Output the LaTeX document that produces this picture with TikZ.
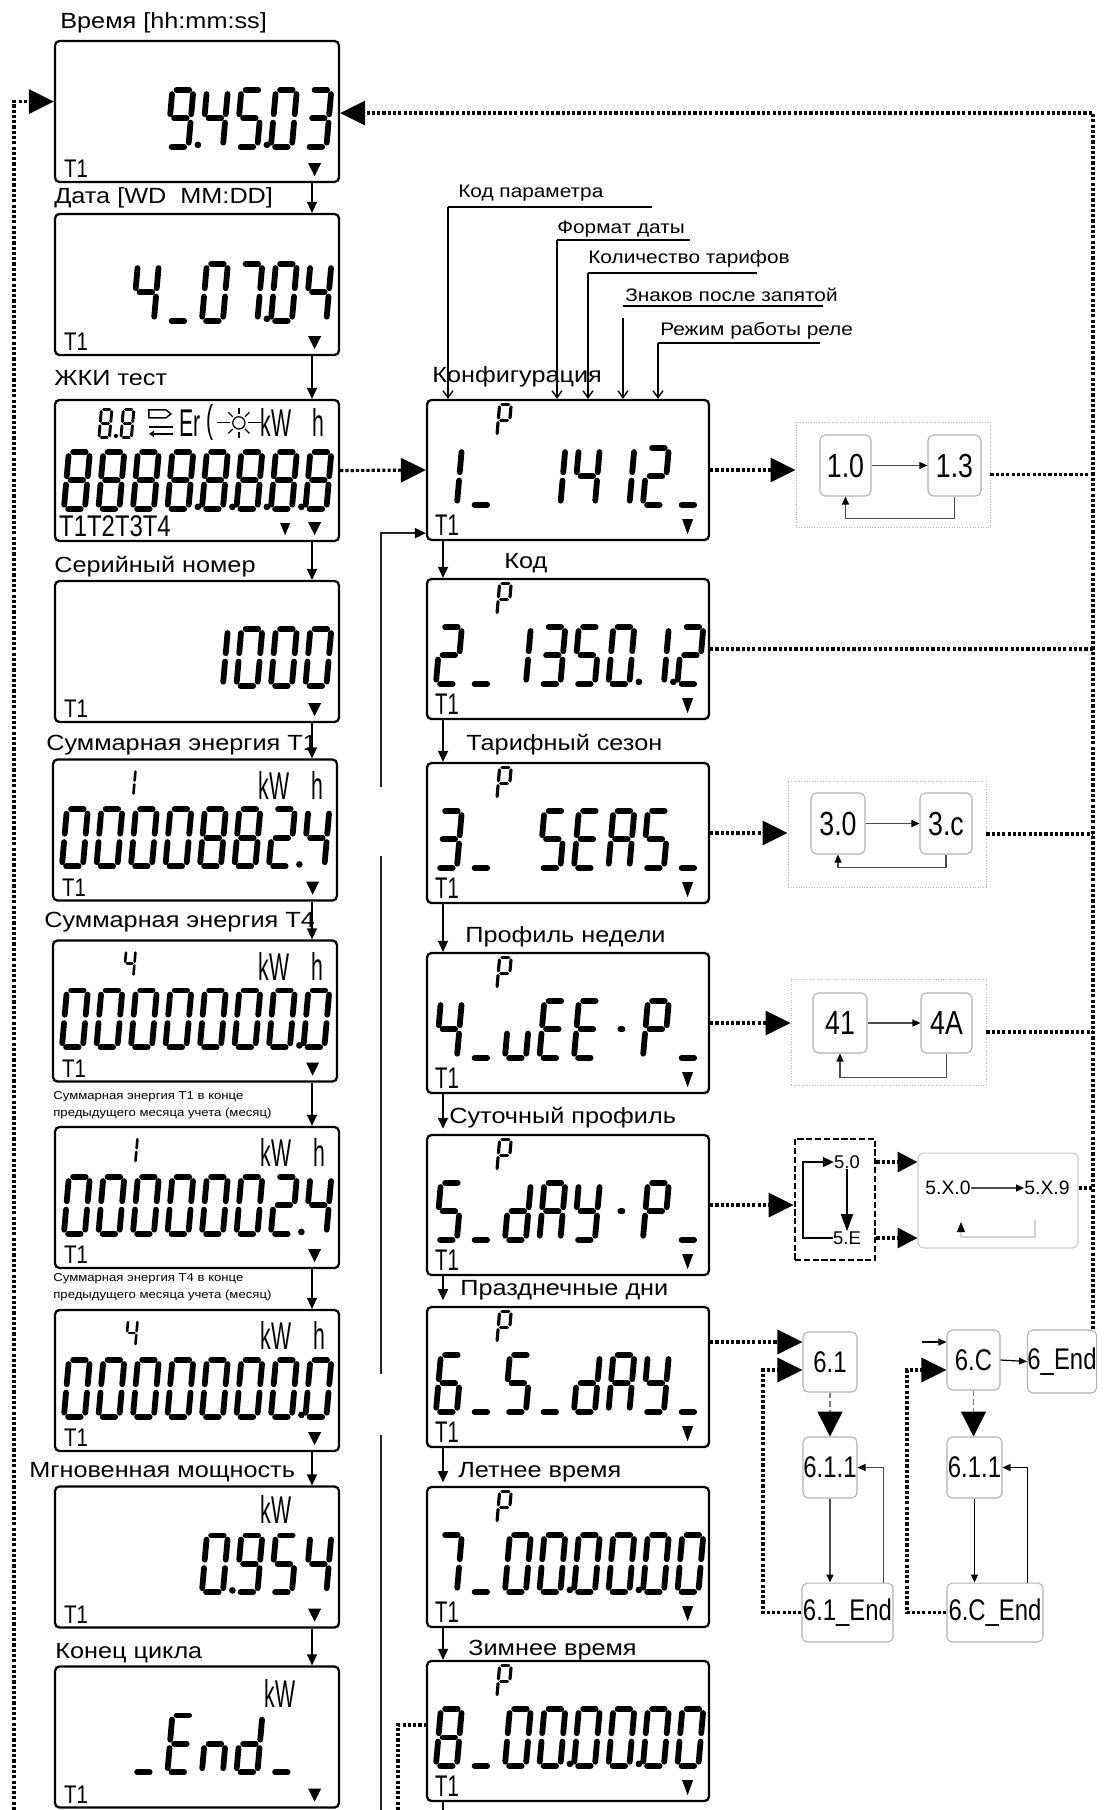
\documentclass[tikz,border=0pt]{standalone}
\usepackage{fontspec}
\setmainfont{Liberation Sans}
\newfontfamily\lblfont[FakeStretch=1.15]{Liberation Sans}
\newfontfamily\nrwfont[FakeStretch=0.55]{Liberation Sans}
\newfontfamily\tfont[FakeStretch=0.68]{Liberation Sans}
\newfontfamily\midfont[FakeStretch=0.8]{Liberation Sans}
\usetikzlibrary{arrows.meta,calc,positioning}

% семисегментные знаки: концы сегментов
\expandafter\def\csname lcdpta\endcsname{0/2/1/2}
\expandafter\def\csname lcdptb\endcsname{1/2/1/1}
\expandafter\def\csname lcdptc\endcsname{1/1/1/0}
\expandafter\def\csname lcdptd\endcsname{0/0/1/0}
\expandafter\def\csname lcdpte\endcsname{0/1/0/0}
\expandafter\def\csname lcdptf\endcsname{0/2/0/1}
\expandafter\def\csname lcdptg\endcsname{0/1/1/1}
\expandafter\def\csname lcdpth\endcsname{0.25/1/0.75/1}
% знаки: какие сегменты горят
\newcommand\defchar[2]{\expandafter\def\csname lcdseg#1\endcsname{#2}}
\defchar{0}{a,b,c,d,e,f}
\defchar{1}{b,c}
\defchar{2}{a,b,g,e,d}
\defchar{3}{a,b,g,c,d}
\defchar{4}{f,g,b,c}
\defchar{5}{a,f,g,c,d}
\defchar{6}{a,f,g,e,c,d}
\defchar{7}{a,b,c}
\defchar{8}{a,b,c,d,e,f,g}
\defchar{9}{a,b,c,d,f,g}
\defchar{E}{a,f,g,e,d}
\defchar{S}{a,f,g,c,d}
\defchar{A}{a,b,c,e,f,g}
\defchar{Y}{f,g,b,c,d}
\defchar{P}{a,b,f,g,e}
\defchar{d}{b,c,d,e,g}
\defchar{n}{e,g,c}
\defchar{u}{e,d,c}
\defchar{_}{d}
\defchar{-}{h}

\def\drawseg#1/#2/#3/#4\relax{\draw[line width=\lcdlw pt, line cap=round,
  shorten <=\lcdsh pt, shorten >=\lcdsh pt] (#1,#2) -- (#3,#4);}

\newcommand\lcdchar[3][1]{%
  \edef\lcdtmp{#2}\def\lcdblank{x}%
  \ifx\lcdtmp\lcdblank\else
    \pgfmathsetmacro\lcdlw{#1*3.3}%
    \pgfmathsetmacro\lcdsh{#1*2.4}%
    \edef\lcdsegs{\csname lcdseg#2\endcsname}%
    \begin{scope}[shift={#3}, x={(#1*0.42cm,0)}, y={(#1*0.05cm,#1*0.57cm)}]
      \foreach \s in \lcdsegs {\edef\lcdpts{\csname lcdpt\s\endcsname}\expandafter\drawseg\lcdpts\relax}
    \end{scope}
  \fi}
\newcommand\lcdrow[3][1]{\begin{scope}[shift={#2}]
  \foreach \c [count=\i from 0] in {#3} {\lcdchar[#1]{\c}{(\i*34.5,0)}}\end{scope}}
\newcommand\lcddots[2]{\begin{scope}[shift={#1}]
  \foreach \d in {#2} {\fill (\d*34.5-4,-2) circle (1.9pt);}\end{scope}}

\begin{document}
\begin{tikzpicture}[x=0.02cm, y=-0.02cm,
    lcdbox/.style={draw, line width=1.3pt, rounded corners=2.5pt, inner sep=0,
      minimum width=5.68cm, minimum height=2.82cm},
    cfgbox/.style={lcdbox, minimum width=5.64cm, minimum height=2.8cm},
    lbl/.style={anchor=west, inner sep=0, font=\lblfont\fontsize{12.5}{14}\selectfont},
    ann/.style={anchor=west, inner sep=0, font=\lblfont\fontsize{10.3}{12}\selectfont},
    tinylbl/.style={anchor=north west, inner sep=0, align=left,
      font=\lblfont\fontsize{6.5}{9.6}\selectfont},
    tlbl/.style={anchor=west, inner sep=0, font=\midfont\fontsize{14.5}{15}\selectfont},
    ctlbl/.style={anchor=west, inner sep=0, font=\tfont\fontsize{17}{18}\selectfont},
    unitlbl/.style={inner sep=0, font=\nrwfont\fontsize{22}{22}\selectfont},
    link/.style={line width=0.9pt, -{Triangle[length=0.22cm,width=0.2cm]}},
    retline/.style={line width=0.9pt, gray!30!black},
    annline/.style={line width=0.8pt},
    annarr/.style={line width=0.8pt, -{Straight Barb[length=0.14cm,width=0.2cm]}},
    dotline/.style={line width=1.8pt, dash pattern=on 1.8pt off 1.2pt},
    dotarr/.style={dotline, -{Triangle[length=0.5cm,width=0.48cm]}},
    midarr/.style={dotline, -{Triangle[length=0.4cm,width=0.4cm]}},
    grpbox/.style={draw=gray!55, densely dotted, line width=0.5pt, inner sep=0},
    sbox/.style={draw=gray!60, rounded corners=3pt, line width=0.6pt, inner sep=0,
      font=\midfont\fontsize{19}{20}\selectfont},
    sixbox/.style={sbox, font=\midfont\fontsize{17}{18}\selectfont},
    sarr/.style={line width=0.7pt, gray!60!black, -{Triangle[length=0.16cm,width=0.14cm,color=black]}},
    bigdown/.style={line width=1pt, densely dashed, gray, -{Triangle[length=0.5cm,width=0.5cm,color=black]}},
  ]
  \fill[white] (0,0) rectangle (1104,1810);
  \useasboundingbox (0,0) rectangle (1104,1810);

  % левая колонка: экраны
  \node[lcdbox] (time) at (197,111.5) {};
  \node[lcdbox] (date) at (197,284.5) {};
  \node[lcdbox] (test) at (197,470.5) {};
  \node[lcdbox] (serial) at (197,651.5) {};
  \node[lcdbox] (sumone) at (195,830) {};
  \node[lcdbox] (sumfour) at (195,1011) {};
  \node[lcdbox] (prevone) at (197,1197.5) {};
  \node[lcdbox] (prevfour) at (197,1380.5) {};
  \node[lcdbox] (power) at (197,1557) {};
  \node[lcdbox] (cycend) at (197,1737) {};

  \node[lbl] (ltime) at (60,23) {Время [hh:mm:ss]};
  \node[lbl] (ldate) at (54,198) {Дата [WD\ \ MM:DD]};
  \node[lbl] (ltest) at (54,378) {ЖКИ тест};
  \node[lbl] (lserial) at (54,567) {Серийный номер};
  \node[lbl] (lsumone) at (46,745) {Суммарная энергия T1};
  \node[lbl] (lsumfour) at (44,922) {Суммарная энергия T4};
  \node[tinylbl] (lprevone) at (53,1091) {Суммарная энергия T1 в конце\\предыдущего месяца учета (месяц)};
  \node[tinylbl] (lprevfour) at (53,1273) {Суммарная энергия T4 в конце\\предыдущего месяца учета (месяц)};
  \node[lbl] (lpower) at (29,1472) {Мгновенная мощность};
  \node[lbl] (lcycend) at (55,1653) {Конец цикла};

  % правая колонка: параметры
  \node[cfgbox] (cfg1) at (568,470) {};
  \node[cfgbox] (cfg2) at (568,649) {};
  \node[cfgbox] (cfg3) at (568,833) {};
  \node[cfgbox] (cfg4) at (568,1023) {};
  \node[cfgbox] (cfg5) at (568,1205) {};
  \node[cfgbox] (cfg6) at (568,1377) {};
  \node[cfgbox] (cfg7) at (568,1557) {};
  \node[cfgbox] (cfg8) at (568,1731) {};

  \node[lbl] (lcfg1) at (432,377) {Конфигурация};
  \node[lbl] (lcfg2) at (504,563) {Код};
  \node[lbl] (lcfg3) at (466,745) {Тарифный сезон};
  \node[lbl] (lcfg4) at (465,937) {Профиль недели};
  \node[lbl] (lcfg5) at (449,1118) {Суточный профиль};
  \node[lbl] (lcfg6) at (460,1290) {Празднечные дни};
  \node[lbl] (lcfg7) at (458,1472) {Летнее время};
  \node[lbl] (lcfg8) at (468,1650) {Зимнее время};

  % цифры на экранах
  \begin{scope}[shift={(time.north west)}]
    \lcdrow{(10,107)}{x,x,x,9,4,5,0,3} \lcddots{(10,107)}{4,6}
  \end{scope}
  \begin{scope}[shift={(date.north west)}]
    \lcdrow{(10,108)}{x,x,4,_,0,7,0,4} \lcddots{(10,108)}{6}
  \end{scope}
  \begin{scope}[shift={(test.north west)}]
    \lcdrow{(10,110)}{8,8,8,8,8,8,8,8} \lcddots{(10,110)}{4,5,6,7}
  \end{scope}
  \begin{scope}[shift={(serial.north west)}]
    \lcdrow{(10,106)}{x,x,x,x,1,0,0,0}
  \end{scope}
  \begin{scope}[shift={(sumone.north west)}]
    \lcdrow{(10,108)}{0,0,0,0,8,8,2,4} \lcddots{(10,108)}{7}
  \end{scope}
  \begin{scope}[shift={(sumfour.north west)}]
    \lcdrow{(10,108)}{0,0,0,0,0,0,0,0} \lcddots{(10,108)}{7}
  \end{scope}
  \begin{scope}[shift={(prevone.north west)}]
    \lcdrow{(10,108)}{0,0,0,0,0,0,2,4} \lcddots{(10,108)}{7}
  \end{scope}
  \begin{scope}[shift={(prevfour.north west)}]
    \lcdrow{(10,108)}{0,0,0,0,0,0,0,0} \lcddots{(10,108)}{7}
  \end{scope}
  \begin{scope}[shift={(power.north west)}]
    \lcdrow{(10,107)}{x,x,x,x,0,9,5,4} \lcddots{(10,107)}{5}
  \end{scope}
  \begin{scope}[shift={(cycend.north west)}]
    \lcdrow{(10,107)}{x,x,_,E,n,d,_,x}
  \end{scope}

  \begin{scope}[shift={(cfg1.north west)}]
    \lcdrow{(10,106)}{1,_,x,1,4,1,2,_}
  \end{scope}
  \begin{scope}[shift={(cfg2.north west)}]
    \lcdrow{(10,106)}{2,_,1,3,5,0,1,2} \lcddots{(10,106)}{6,7}
  \end{scope}
  \begin{scope}[shift={(cfg3.north west)}]
    \lcdrow{(10,106)}{3,_,x,S,E,A,S,_}
  \end{scope}
  \begin{scope}[shift={(cfg4.north west)}]
    \lcdrow{(10,106)}{4,_,u,E,E,-,P,_}
  \end{scope}
  \begin{scope}[shift={(cfg5.north west)}]
    \lcdrow{(10,106)}{5,_,d,A,Y,-,P,_}
  \end{scope}
  \begin{scope}[shift={(cfg6.north west)}]
    \lcdrow{(10,106)}{6,_,S,_,d,A,Y,_}
  \end{scope}
  \begin{scope}[shift={(cfg7.north west)}]
    \lcdrow{(10,106)}{7,_,0,0,0,0,0,0} \lcddots{(10,106)}{4,6}
  \end{scope}
  \begin{scope}[shift={(cfg8.north west)}]
    \lcdrow{(10,106)}{8,_,0,0,0,0,0,0} \lcddots{(10,106)}{4,6}
  \end{scope}

  % верхняя строка экранов
  \foreach \b/\n in {sumone/1, sumfour/4, prevone/1, prevfour/4} {
    \lcdchar[0.45]{\n}{($(\b.north west)+(72,37)$)}
    \node[unitlbl] (\b-kw) at ($(\b.north west)+(222,27)$) {kW};
    \node[unitlbl] (\b-h) at ($(\b.north west)+(266,27)$) {h};
  }
  \node[unitlbl] (power-kw) at ($(power.north west)+(222,24)$) {kW};
  \node[unitlbl] (cycend-kw) at ($(cycend.north west)+(226,28)$) {kW};

  \lcdchar[0.5]{8}{($(test.north west)+(45,39)$)}
  \lcdchar[0.5]{8}{($(test.north west)+(67,39)$)}
  \fill ($(test.north west)+(62,37)$) circle (1.2pt);
  \draw[line width=0.8pt] ($(test.north west)+(95,11)$) -- ++(17,0) -- ++(5,4) -- ++(-5,4) -- ++(-17,0) -- cycle;
  \draw[line width=1.4pt] ($(test.north west)+(95,28)$) -- ++(24,0);
  \draw[line width=1pt, -{Triangle[length=3pt,width=3.5pt]}] ($(test.north west)+(119,35)$) -- ++(-24,0);
  \node[unitlbl] (test-er) at ($(test.north west)+(136,24)$) {Er};
  \node[unitlbl] (test-br) at ($(test.north west)+(156,24)$) {(};
  \coordinate (sun) at ($(test.north west)+(185,24)$);
  \draw[line width=0.7pt] (sun) circle (3.5pt);
  \foreach \a in {45,90,...,315} \draw[line width=0.7pt] ($(sun)+(\a:5pt)$) -- ($(sun)+(\a:8.5pt)$);
  \draw[line width=0.7pt] ($(sun)+(5pt,0)$) -- ($(sun)+(12.5pt,0)$);
  \draw[line width=0.7pt] ($(sun)+(-5pt,0)$) -- ($(sun)+(-12.5pt,0)$);
  \node[unitlbl] (test-kw) at ($(test.north west)+(222,24)$) {kW};
  \node[unitlbl] (test-h) at ($(test.north west)+(265,24)$) {h};

  % нижняя строка экранов
  \foreach \b in {time,date,serial,sumone,sumfour,prevone,prevfour,power,cycend} {
    \node[tlbl] (\b-t) at ($(\b.south west)+(10,-14)$) {T1};
    \fill ($(\b.south east)+(-32,-20)$) -- ++(13,0) -- ++(-6.5,13) -- cycle;
  }
  \node[tlbl, font=\midfont\fontsize{17}{18}\selectfont] (test-t) at ($(test.south west)+(5,-16)$) {T1T2T3T4};
  \fill ($(test.south east)+(-32,-20)$) -- ++(13,0) -- ++(-6.5,13) -- cycle;
  \fill ($(test.south east)+(-60,-19)$) -- ++(10,0) -- ++(-5,12) -- cycle;
  \foreach \n in {1,...,8} {
    \node[ctlbl] (cfg\n-t) at ($(cfg\n.south west)+(9,-16)$) {T1};
    \fill ($(cfg\n.south east)+(-28,-22)$) -- ++(11,0) -- ++(-5.5,15) -- cycle;
    \lcdchar[0.55]{P}{($(cfg\n.north west)+(71,37)$)}
  }

  % переходы по колонкам
  \coordinate (lx) at (312,0);
  \foreach \a/\b in {time/date, date/test, test/serial, serial/sumone, sumone/sumfour,
      sumfour/prevone, prevone/prevfour, prevfour/power, power/cycend}
    \draw[link] (\a.south -| lx) -- (\b.north -| lx);
  \coordinate (cx) at (443,0);
  \coordinate (bot) at (0,1810);
  \draw[link] (cfg1.south -| cx) -- (cfg2.north -| cx);
  \draw[link] (cfg2.south -| cx) -- (cfg3.north -| cx);
  \draw[link] (cfg3.south -| cx) -- (cfg4.north -| cx);
  \draw[link] (cfg4.south -| cx) -- (cx |- lcfg5.south);
  \draw[link] (cfg5.south -| cx) -- (cx |- lcfg6.south);
  \draw[link] (cfg6.south -| cx) -- (cx |- lcfg7.south);
  \draw[link] (cfg7.south -| cx) -- (cfg8.north -| cx);
  \draw[line width=0.9pt] (cfg8.south -| cx) -- (cx |- bot);

  % подписи разрядов конфигурации
  \node[ann] (akod) at (458,193) {Код параметра};
  \node[ann] (adate) at (557,229) {Формат даты};
  \node[ann] (atar) at (588,259) {Количество тарифов};
  \node[ann] (adec) at (625,295) {Знаков после запятой};
  \node[ann] (arel) at (660,331) {Режим работы реле};
  \coordinate (k1) at (448,207);
  \coordinate (k2) at (557,240);
  \coordinate (k3) at (588,273);
  \coordinate (k4) at (623,306);
  \coordinate (k5) at (658,343);
  \draw[annline] (k1) -- ++(204,0);
  \draw[annline] (k2) -- ++(133,0);
  \draw[annline] (k3) -- ++(169,0);
  \draw[annline] (k4) -- ++(200,0);
  \draw[annline] (k5) -- ++(162,0);
  \draw[annarr] (k1) -- (k1 |- cfg1.north);
  \draw[annarr] (k2) -- (k2 |- cfg1.north);
  \draw[annarr] (k3) -- (k3 |- cfg1.north);
  \draw[annarr] ($(k4)+(0,12)$) -- (k4 |- cfg1.north);
  \draw[annarr] (k5) -- (k5 |- cfg1.north);

  % возвраты и пунктирные связи
  \draw[dotarr] (test.east) -- (cfg1.west);
  \coordinate (ra) at (381,1810);
  \coordinate (rb) at (381,1435);
  \coordinate (rc) at (381,1374);
  \coordinate (rd) at (381,856);
  \coordinate (re) at (381,787);
  \draw[retline] (ra) -- (rb);
  \draw[retline] (rc) -- (rd);
  \draw[retline, -{Triangle[length=0.22cm,width=0.2cm,color=black]}] (re) |- ($(cfg1.south west)+(0,-8)$);
  \coordinate (da) at (398,1810);
  \draw[dotline] (da) |- ($(cfg8.west)+(0,-6)$);
  \coordinate (lb) at (14,1810);
  \draw[dotarr] (lb) |- ($(time.west)+(0,-10)$);

  % группа 1
  \node[grpbox, minimum width=3.88cm, minimum height=2.1cm] (grp1) at (893,474.5) {};
  \node[sbox, minimum width=1.02cm, minimum height=1.22cm] (g10) at (845.5,465.5) {1.0};
  \node[sbox, minimum width=1.06cm, minimum height=1.22cm] (g13) at (954.5,465.5) {1.3};
  \draw[sarr] (g10.east) -- (g13.west);
  \draw[sarr] (g13.south) -- ++(0,22) -| (g10.south);
  \draw[dotarr] (cfg1.east) -- (cfg1.east -| grp1.west);

  % группа 3
  \node[grpbox, minimum width=3.96cm, minimum height=2.12cm] (grp3) at (887,834) {};
  \node[sbox, minimum width=1.08cm, minimum height=1.22cm] (g30) at (838,823.5) {3.0};
  \node[sbox, minimum width=1.04cm, minimum height=1.22cm] (g3c) at (946,823.5) {3.c};
  \draw[sarr] (g30.east) -- (g3c.west);
  \draw[sarr] (g3c.south) -- ++(0,13) -| (g30.south);
  \draw[dotarr] (cfg3.east) -- (cfg3.east -| grp3.west);

  % группа 4
  \node[grpbox, minimum width=3.9cm, minimum height=2.12cm] (grp4) at (888.5,1032) {};
  \node[sbox, minimum width=1.08cm, minimum height=1.2cm] (g41) at (840,1023) {41};
  \node[sbox, minimum width=1.02cm, minimum height=1.2cm] (g4a) at (946.5,1023) {4A};
  \draw[sarr] (g41.east) -- (g4a.west);
  \draw[sarr] (g4a.south) -- ++(0,24) -| (g41.south);
  \draw[dotarr] (cfg4.east) -- (cfg4.east -| grp4.west);

  % группа 5
  \node[draw, line width=1.6pt, dash pattern=on 3.5pt off 1.5pt, inner sep=0,
    minimum width=1.6cm, minimum height=2.42cm] (grp5) at (835,1199.5) {};
  \node[inner sep=0, font=\fontsize{10.5}{12}\selectfont] (g50) at (847,1162) {5.0};
  \node[inner sep=0, font=\fontsize{10.5}{12}\selectfont] (g5e) at (847,1238) {5.E};
  \coordinate (brk) at (803,0);
  \draw[line width=0.9pt, -{Triangle[length=0.22cm,width=0.2cm]}] (g5e.west) -- (g5e.west -| brk) -- (g50.west -| brk) -- (g50.west);
  \draw[line width=1pt, -{Triangle[length=0.34cm,width=0.24cm]}] (g50.south) -- (g5e.north);
  \draw[dotarr] (cfg5.east) -- (cfg5.east -| grp5.west);
  \node[draw=gray!40, rounded corners=3pt, line width=0.6pt, inner sep=0,
    minimum width=3.2cm, minimum height=1.9cm] (grp5x) at (998,1200.5) {};
  \node[inner sep=0, font=\fontsize{11}{12}\selectfont] (x50) at (948,1188) {5.X.0};
  \node[inner sep=0, font=\fontsize{11}{12}\selectfont] (x59) at (1047,1188) {5.X.9};
  \draw[sarr] (x50.east) -- (x59.west);
  \coordinate (x5r) at (1035,1220);
  \coordinate (x5l) at (961,1237);
  \draw[line width=0.6pt, gray!35, -{Triangle[length=0.2cm,width=0.16cm,color=black]}] (x5r) -- (x5r |- x5l) -- (x5l) -- ++(0,-15);
  \draw[midarr] (grp5.east |- g50) -- (grp5x.west |- g50);
  \draw[midarr] (grp5.east |- g5e) -- (grp5x.west |- g5e);

  % группа 6
  \node[sixbox, minimum width=1.08cm, minimum height=1.2cm] (g61) at (830,1362) {6.1};
  \node[sixbox, minimum width=1.08cm, minimum height=1.22cm] (g611) at (830,1467.5) {6.1.1};
  \node[sixbox, minimum width=1.82cm, minimum height=1.18cm] (g61e) at (847.5,1612.5) {6.1\_End};
  \node[sixbox, minimum width=1.06cm, minimum height=1.2cm] (g6c) at (973.5,1360) {6.C};
  \node[sixbox, minimum width=1.1cm, minimum height=1.22cm] (g6c1) at (974.5,1467.5) {6.1.1};
  \node[sixbox, minimum width=1.92cm, minimum height=1.18cm] (g6ce) at (995,1612.5) {6.C\_End};
  \node[sixbox, minimum width=1.36cm, minimum height=1.26cm] (g6e) at (1062,1361.5) {6\_End};
  \coordinate (h6) at (0,1342);
  \draw[dotarr] (cfg6.east |- h6) -- (g61.west |- h6);
  \coordinate (l1) at (763,1370);
  \draw[dotarr] (g61e.west) -| (l1) -- (g61.west |- l1);
  \draw[bigdown] (g61.south) -- (g611.north);
  \draw[sarr] (g611.south) -- (g611.south |- g61e.north);
  \draw[sarr] ($(g61e.north east)+(-10,0)$) |- (g611.east);
  \coordinate (c6in) at (922,1342);
  \draw[sarr, black] (c6in) -- (g6c.west |- c6in);
  \coordinate (l2) at (907,1370);
  \draw[dotarr] (g6ce.west) -| (l2) -- (g6c.west |- l2);
  \draw[sarr, black] (g6c.east) -- (g6e.west);
  \draw[bigdown] (g6c.south) -- (g6c.south |- g6c1.north);
  \draw[sarr, black] (g6c1.south) -- (g6c1.south |- g6ce.north);
  \draw[sarr, black] ($(g6ce.north east)+(-16,0)$) |- (g6c1.east);

  % правая пунктирная линия возврата
  \coordinate (rv) at (1093,113);
  \draw[dotline] (cfg2.east) -- (cfg2.east -| rv);
  \draw[dotline] (grp1.east) -- (grp1.east -| rv);
  \draw[dotline] (grp3.east) -- (grp3.east -| rv);
  \draw[dotline] (grp4.east) -- (grp4.east -| rv);
  \draw[dotline] (grp5x.east |- x59) -- (x59.east -| rv);
  \draw[dotarr] (g6e.north -| rv) -- (rv) -- (rv -| time.east);
\end{tikzpicture}
\end{document}
